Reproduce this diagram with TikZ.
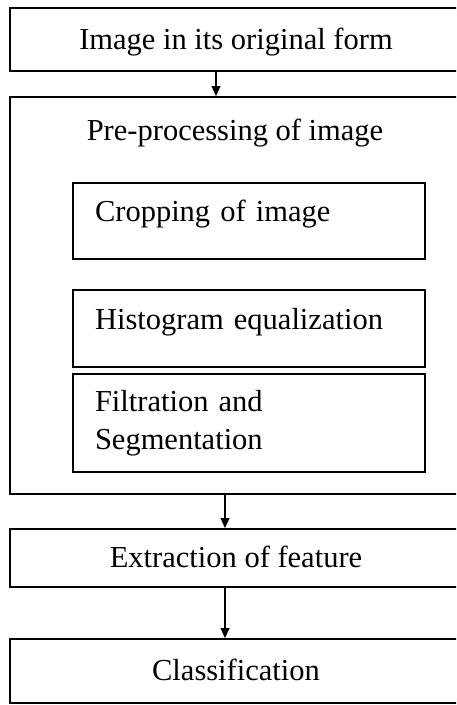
\documentclass[tikz,border=0pt]{standalone}
\usepackage{fontspec}
\setmainfont{Liberation Serif}
\usetikzlibrary{arrows.meta,positioning}

\tikzset{
  stage/.style={draw, line width=1.6pt, minimum width=452pt, inner sep=0pt,
    font=\fontsize{30.5}{38}\selectfont, text height=21pt, text depth=2pt},
  substage/.style={draw, line width=1.6pt, inner xsep=22pt, inner ysep=0pt,
    text width=308pt, align=left, font=\fontsize{30.5}{38}\selectfont,
    text height=21pt},
  onerow/.style={text depth=19.5pt},
  flow/.style={line width=1.8pt, -{Triangle[length=10pt,width=8.5pt]}}
}

\begin{document}
\begin{tikzpicture}[x=1pt, y=-1pt]
  \useasboundingbox (0,0) rectangle (456,705);
  \clip (0,0) rectangle (456,705);

  % main stages
  \node[stage, minimum height=63pt] (orig) at (236,39.5) {Image in its original form};
  \node[stage, minimum height=397pt] (pre) at (236,295.5) {};
  \node[anchor=base, font=\fontsize{30.5}{38}\selectfont] (prelabel) at (235,140)
    {Pre-processing of image};

  % steps of pre-processing
  \node[substage, onerow, minimum height=76pt] (crop) at (249,221) {Cropping of image};
  \node[substage, onerow, minimum height=77pt] (histeq) at (249,328.5) {Histogram equalization};
  \node[substage, minimum height=98pt] (filt) at (249,423) {Filtration and\\Segmentation};

  \node[stage, minimum height=58pt] (extract) at (236,558) {Extraction of feature};
  \node[stage, minimum height=64pt] (classify) at (236,671) {Classification};

  % arrows
  \draw[flow] ([xshift=-20pt]orig.south) -- ([xshift=-20pt]pre.north);
  \draw[flow] ([xshift=-11pt]pre.south) -- ([xshift=-11pt]extract.north);
  \draw[flow] ([xshift=-11pt]extract.south) -- ([xshift=-11pt]classify.north);

\end{tikzpicture}
\end{document}
